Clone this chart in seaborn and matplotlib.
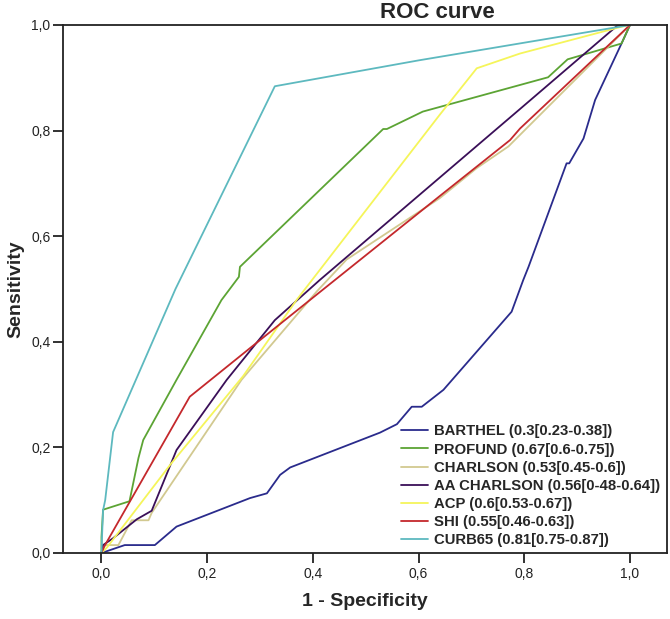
import matplotlib
matplotlib.use("Agg")
import matplotlib.pyplot as plt
import seaborn as sns
import pandas as pd

# ---- data ----
barthel_fpr = [0.0, 0.044, 0.101, 0.142, 0.281, 0.313, 0.338, 0.357, 0.527, 0.559, 0.587, 0.606, 0.647, 0.776, 0.798, 0.808, 0.880, 0.885, 0.912, 0.934, 0.984, 1.0]
barthel_tpr = [0.0, 0.015, 0.015, 0.050, 0.104, 0.113, 0.148, 0.162, 0.228, 0.244, 0.277, 0.277, 0.309, 0.457, 0.517, 0.542, 0.738, 0.738, 0.785, 0.858, 0.965, 1.0]

profund_fpr = [0.0, 0.0, 0.003, 0.053, 0.070, 0.079, 0.142, 0.227, 0.260, 0.262, 0.533, 0.540, 0.608, 0.845, 0.882, 0.984, 1.0]
profund_tpr = [0.0, 0.030, 0.082, 0.098, 0.180, 0.214, 0.328, 0.479, 0.523, 0.542, 0.803, 0.803, 0.836, 0.901, 0.935, 0.965, 1.0]

charlson_fpr = [0.0, 0.007, 0.032, 0.057, 0.089, 0.095, 0.265, 0.281, 0.407, 0.464, 0.640, 0.710, 0.770, 0.792, 1.0]
charlson_tpr = [0.0, 0.015, 0.015, 0.062, 0.062, 0.076, 0.328, 0.347, 0.495, 0.556, 0.672, 0.729, 0.770, 0.792, 1.0]

aacharlson_fpr = [0.0, 0.003, 0.022, 0.067, 0.095, 0.142, 0.237, 0.328, 0.413, 0.792, 0.975, 1.0]
aacharlson_tpr = [0.0, 0.015, 0.028, 0.064, 0.080, 0.195, 0.328, 0.441, 0.517, 0.841, 0.998, 1.0]

acp_fpr = [0.0, 0.010, 0.130, 0.268, 0.369, 0.640, 0.710, 0.792, 0.981, 1.0]
acp_tpr = [0.0, 0.010, 0.167, 0.335, 0.479, 0.830, 0.918, 0.946, 0.996, 1.0]

shi_fpr = [0.0, 0.005, 0.167, 0.281, 0.398, 0.640, 0.773, 0.792, 1.0]
shi_tpr = [0.0, 0.012, 0.296, 0.388, 0.482, 0.676, 0.782, 0.804, 1.0]

curb65_fpr = [0.0, 0.001, 0.003, 0.007, 0.022, 0.140, 0.328, 0.600, 1.0]
curb65_tpr = [0.0, 0.030, 0.081, 0.100, 0.229, 0.500, 0.884, 0.933, 1.0]

labels = [
    "BARTHEL (0.3[0.23-0.38])",
    "PROFUND (0.67[0.6-0.75])",
    "CHARLSON (0.53[0.45-0.6])",
    "AA CHARLSON (0.56[0-48-0.64])",
    "ACP (0.6[0.53-0.67])",
    "SHI (0.55[0.46-0.63])",
    "CURB65 (0.81[0.75-0.87])",
]
colors = ["#2a2b8c", "#5ca434", "#d2c990", "#3a0f58", "#f5f55a", "#c4282c", "#5db9bf"]
x_ticks = [0.0, 0.2, 0.4, 0.6, 0.8, 1.0]
tick_labels = ["0,0", "0,2", "0,4", "0,6", "0,8", "1,0"]

series = [
    (barthel_fpr, barthel_tpr), (profund_fpr, profund_tpr),
    (charlson_fpr, charlson_tpr), (aacharlson_fpr, aacharlson_tpr),
    (acp_fpr, acp_tpr), (shi_fpr, shi_tpr), (curb65_fpr, curb65_tpr),
]

rows = []
for lab, (fx, ty) in zip(labels, series):
    for i, (a, b) in enumerate(zip(fx, ty)):
        rows.append({"fpr": a, "tpr": b, "model": lab, "order": i})
df = pd.DataFrame(rows)

sns.set_style("white")
plt.rcParams["font.family"] = ["Liberation Sans", "DejaVu Sans"]

fig = plt.figure(figsize=(6.70, 6.19), dpi=100)
ax = fig.add_axes([63 / 670, 1 - 553 / 619, (667 - 63) / 670, (553 - 25) / 619])

sns.lineplot(data=df, x="fpr", y="tpr", hue="model", hue_order=labels,
             palette=dict(zip(labels, colors)), sort=False, estimator=None,
             linewidth=1.3, ax=ax)

ax.set_xlim(-0.0728, 1.07)
ax.set_ylim(0, 1)
ax.set_xticks(x_ticks)
ax.set_xticklabels(tick_labels)
ax.set_yticks(x_ticks)
ax.set_yticklabels(tick_labels)
ax.tick_params(axis="both", direction="out", length=7, width=1.3, labelsize=10,
               colors="#222222", pad=2, bottom=True, left=True)
ax.tick_params(axis="x", pad=3)
for sp in ax.spines.values():
    sp.set_visible(True)
    sp.set_color("#222222")
    sp.set_linewidth(1.3)

ax.set_xlabel("1 - Specificity", fontsize=14, fontweight="bold", labelpad=9)
ax.set_ylabel("Sensitivity", fontsize=14, fontweight="bold", labelpad=5)
fig.text(437.5 / 670, 1 - 12 / 619, "ROC curve", fontsize=16, fontweight="bold",
         ha="center", va="center")

leg = ax.legend(loc="upper left", bbox_to_anchor=(394 / 670, 1 - 417 / 619),
                bbox_transform=fig.transFigure, frameon=False, borderpad=0,
                handlelength=1.8, handletextpad=0.4, labelspacing=0.28,
                prop={"size": 10.7, "weight": "bold"})
for line in leg.get_lines():
    line.set_linewidth(1.3)

fig.savefig("out.png", dpi=100)
